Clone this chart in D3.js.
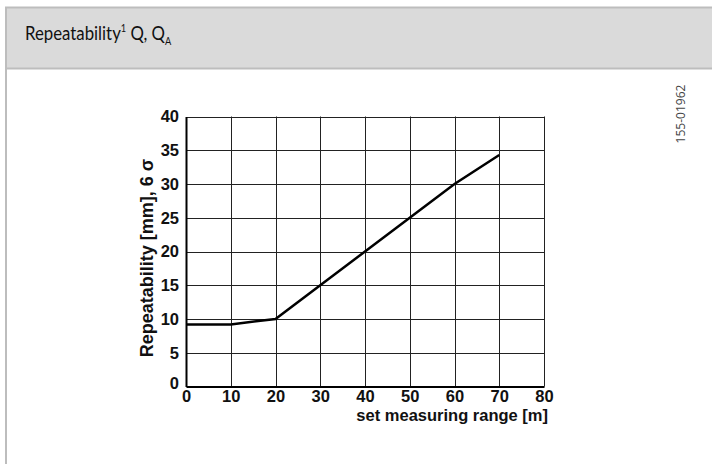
<!DOCTYPE html>
<html>
<head>
<meta charset="utf-8">
<script src="https://cdn.jsdelivr.net/npm/d3@7"></script>
<style>
  body { margin: 0; background: #fff; }
  svg { display: block; }
</style>
</head>
<body>
<div id="chart"></div>
<script>
// data
var rangeM = [0, 10, 20, 30, 40, 50, 60, 70];
var repeatMm = [9.2, 9.2, 10, 15, 20, 25, 30, 34.3];
var xTicks = [0, 10, 20, 30, 40, 50, 60, 70, 80];
var yTicks = [0, 5, 10, 15, 20, 25, 30, 35, 40];

var W = 712, H = 464;
var svg = d3.select('#chart').append('svg')
  .attr('width', W).attr('height', H);

// header band + frame
svg.append('rect').attr('x', 5).attr('y', 7).attr('width', W - 5).attr('height', 61)
  .attr('fill', '#dadada');
svg.append('line').attr('x1', 5).attr('x2', W).attr('y1', 7.5).attr('y2', 7.5)
  .attr('stroke', '#bdbdbd').attr('stroke-width', 2);
svg.append('line').attr('x1', 5).attr('x2', W).attr('y1', 68.5).attr('y2', 68.5)
  .attr('stroke', '#bdbdbd').attr('stroke-width', 2);
svg.append('line').attr('x1', 6).attr('x2', 6).attr('y1', 7).attr('y2', H)
  .attr('stroke', '#bdbdbd').attr('stroke-width', 2);

// title is a narrow face in the original, squeeze Lato a bit
var title = svg.append('text').attr('transform', 'translate(25,40) scale(0.84,1)')
  .attr('font-family', 'Lato, "Noto Sans", sans-serif').attr('font-size', 20).attr('fill', '#111');
title.append('tspan').text('Repeatability');
title.append('tspan').attr('font-size', 11).attr('dy', -8).text('1');
title.append('tspan').attr('dy', 8).text(' Q, Q');
title.append('tspan').attr('font-size', 11).attr('dy', 5).text('A');

svg.append('text')
  .attr('transform', 'translate(685,114) rotate(-90)')
  .attr('text-anchor', 'middle')
  .attr('font-family', '"Open Sans", sans-serif').attr('font-size', 12)
  .attr('fill', '#444')
  .text('155-01962');

// plot
var x = d3.scaleLinear().domain([0, 80]).range([186, 544]);
var y = d3.scaleLinear().domain([0, 40]).range([386.5, 116.5]);

var grid = svg.append('g').attr('stroke', '#222').attr('stroke-width', 1);
grid.selectAll('.gx').data(xTicks.slice(1)).enter().append('line')
  .attr('x1', function(d) { return Math.round(x(d)) + 0.5; })
  .attr('x2', function(d) { return Math.round(x(d)) + 0.5; })
  .attr('y1', y(40)).attr('y2', y(0));
grid.selectAll('.gy').data(yTicks.slice(1)).enter().append('line')
  .attr('x1', x(0)).attr('x2', x(80))
  .attr('y1', function(d) { return Math.round(y(d)) + 0.5; })
  .attr('y2', function(d) { return Math.round(y(d)) + 0.5; });

var font = '"Liberation Sans", Arial, sans-serif';

var xAxis = svg.append('g').attr('transform', 'translate(0,' + y(0) + ')')
  .call(d3.axisBottom(x).tickValues(xTicks).tickSize(0).tickPadding(4));
xAxis.select('.domain').attr('stroke', '#000').attr('stroke-width', 2);
xAxis.selectAll('text').attr('font-family', font).attr('font-size', 16.5)
  .attr('font-weight', 'bold').attr('fill', '#111');

var yAxis = svg.append('g').attr('transform', 'translate(' + x(0) + ',0)')
  .call(d3.axisLeft(y).tickValues(yTicks).tickSize(0).tickPadding(7));
yAxis.select('.domain').attr('stroke', '#000').attr('stroke-width', 2);
yAxis.selectAll('text').attr('font-family', font).attr('font-size', 16.5)
  .attr('font-weight', 'bold').attr('fill', '#111');
yAxis.selectAll('.tick').filter(function(d) { return d === 0; })
  .select('text').attr('dy', '0.1em');

svg.append('text').attr('x', 548).attr('y', 421).attr('text-anchor', 'end')
  .attr('font-family', font).attr('font-size', 16.5).attr('font-weight', 'bold').attr('fill', '#111')
  .text('set measuring range [m]');

svg.append('text')
  .attr('transform', 'translate(153,258) rotate(-90)')
  .attr('text-anchor', 'middle')
  .attr('font-family', font).attr('font-size', 18).attr('font-weight', 'bold').attr('fill', '#111')
  .text('Repeatability [mm], 6 σ');

var line = d3.line()
  .x(function(d, i) { return x(rangeM[i]); })
  .y(function(d) { return y(d); });
svg.append('path').datum(repeatMm)
  .attr('d', line).attr('fill', 'none')
  .attr('stroke', '#000').attr('stroke-width', 2.5);
</script>
</body>
</html>
